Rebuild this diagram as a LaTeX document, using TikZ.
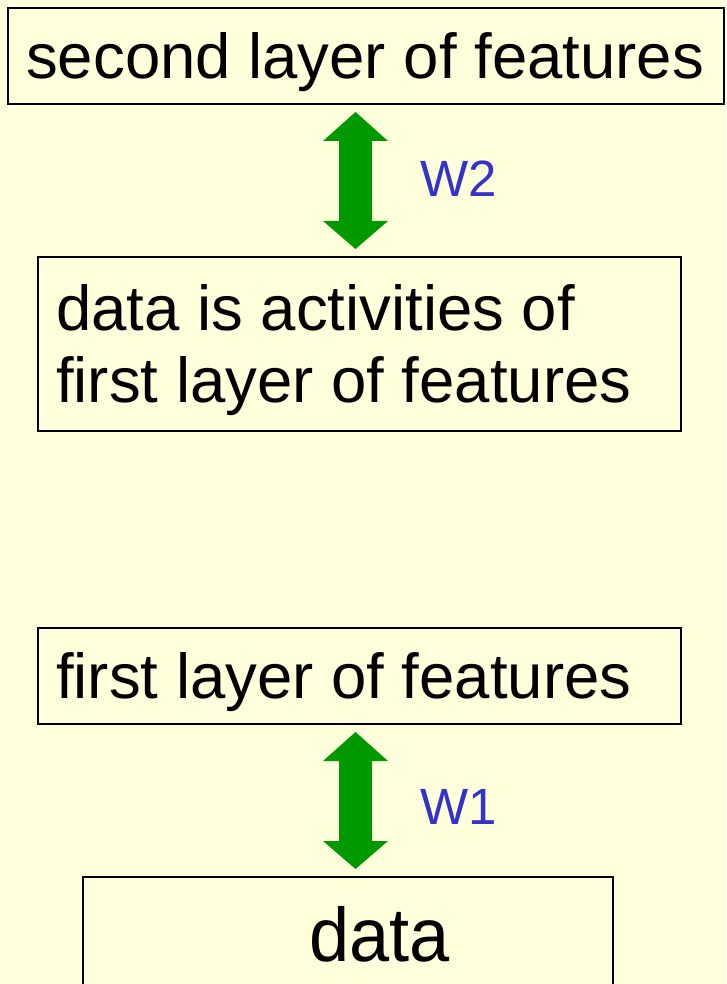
\documentclass[tikz,border=0pt]{standalone}
\usepackage{fontspec}
\setmainfont{Liberation Sans}
\definecolor{bgyellow}{HTML}{FFFFDC}
\definecolor{arrowgreen}{HTML}{009900}
\definecolor{wblue}{HTML}{3333CC}
\begin{document}
\begin{tikzpicture}[x=1pt,y=-1pt,
  box/.style={draw=black, line width=1.6pt, inner sep=0pt, rectangle},
  txt/.style={inner sep=0pt, anchor=base west, font=\fontsize{63.5}{72}\selectfont},
  wlabel/.style={inner sep=0pt, anchor=base west, text=wblue, font=\fontsize{51}{60}\selectfont},
  fatarrow/.style={fill=arrowgreen, draw=none}]
\path[use as bounding box, fill=bgyellow] (0,0) rectangle (726,984);

% boxes
\node[box, minimum width=716pt, minimum height=96pt] (b1) at (366,56) {};
\node[box, minimum width=643pt, minimum height=174pt] (b2) at (359.5,344) {};
\node[box, minimum width=643pt, minimum height=96pt] (b3) at (359.5,676) {};
\node[box, minimum width=530pt, minimum height=123pt] (b4) at (348,938.5) {};

% texts
\node[txt] (t1) at (26,78.7) {second layer of features};
\node[txt] (t2a) at (56,330.7) {data is activities of};
\node[txt] (t2b) at (56,402.7) {first layer of features};
\node[txt] (t3) at (56,698.5) {first layer of features};
\node[txt, font=\fontsize{76}{86}\selectfont, xscale=0.95, transform shape] (t4) at (309,961) {data};

% double arrows
\fill[fatarrow] (355.5,112) -- (388,141) -- (372,141) -- (372,221) -- (388,221)
  -- (355.5,249) -- (323,221) -- (339,221) -- (339,141) -- (323,141) -- cycle;
\fill[fatarrow] (355.5,732) -- (388,761) -- (372,761) -- (372,841) -- (388,841)
  -- (355.5,869) -- (323,841) -- (339,841) -- (339,761) -- (323,761) -- cycle;

% labels
\node[wlabel] (w2) at (420,197) {W2};
\node[wlabel] (w1) at (420,824) {W1};
\end{tikzpicture}
\end{document}
